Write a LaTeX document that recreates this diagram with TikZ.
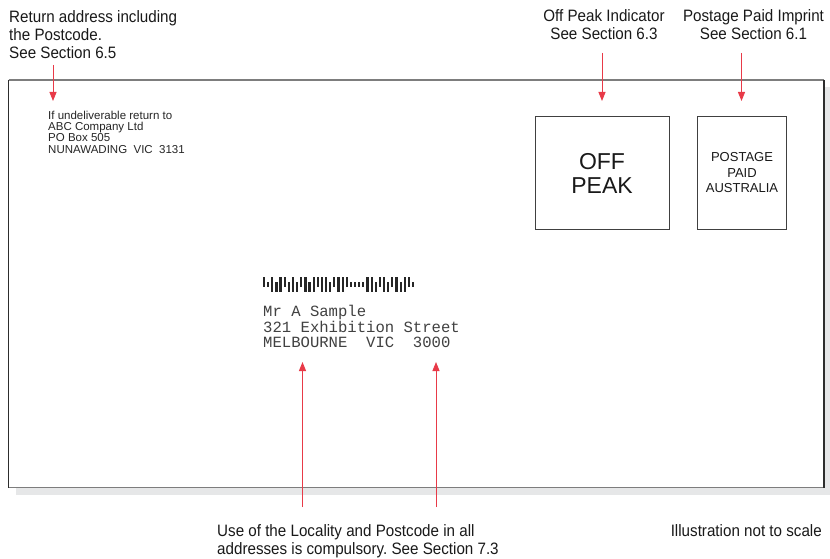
\documentclass[tikz,border=0pt]{standalone}
\usepackage{fontspec}
\setmainfont{Liberation Sans}
\setmonofont{Liberation Mono}
\newfontfamily\condsf[FakeStretch=0.92]{Liberation Sans}
\usetikzlibrary{arrows.meta,calc,positioning}
\definecolor{ptrred}{RGB}{232,58,72}
\definecolor{shadowgray}{RGB}{230,231,232}
\definecolor{edgegray}{RGB}{125,125,125}
\definecolor{edgedark}{RGB}{45,45,45}
\definecolor{inkgray}{RGB}{65,65,65}
\frenchspacing

\tikzset{
  headlabel/.style={inner sep=0pt, align=left, text=black!90,
    font=\condsf\fontsize{16.5}{18}\selectfont},
  retaddr/.style={inner sep=0pt, align=left, text=black!85,
    font=\fontsize{11.5}{11.2}\selectfont},
  addrtext/.style={inner sep=0pt, align=left, text=inkgray,
    font=\ttfamily\fontsize{15.6}{15.5}\selectfont},
  stampbox/.style={draw=black!75, line width=1pt, inner sep=0pt,
    minimum height=112pt, align=center, text=black!90},
  pointer/.style={draw=ptrred, line width=0.9pt,
    -{Triangle[width=7pt,length=9pt]}}
}

\begin{document}
\begin{tikzpicture}[x=1pt,y=-1pt]
  \useasboundingbox (0,0) rectangle (830,559);

  % envelope with its shadow
  \fill[shadowgray] (16,87) rectangle (830,495);
  \fill[white] (8.5,80) rectangle (824,487.5);
  \coordinate (envnw) at (8.5,80);
  \coordinate (envne) at (824,80);
  \coordinate (envsw) at (8.5,487.5);
  \coordinate (envse) at (824,487.5);
  \draw[edgegray, line width=1.8pt] (envnw) -- (envne) (envsw) -- (envse);
  \draw[edgedark, line width=1.5pt] (envnw) -- (envsw) (envne) -- (envse);

  % labels round the envelope
  \node[headlabel, anchor=north west] (retlabel) at (9,10)
    {Return address including\\the Postcode.\\See Section 6.5};
  \node[headlabel, anchor=north, align=center] (offlabel) at (604,9.5)
    {Off Peak Indicator\\See Section 6.3};
  \node[headlabel, anchor=north, align=center] (paidlabel) at (753.5,9.5)
    {Postage Paid Imprint\\See Section 6.1};
  \node[headlabel, anchor=north west] (locallabel) at (217,524)
    {Use of the Locality and Postcode in all\\addresses is compulsory. See Section 7.3};
  \node[headlabel, anchor=north east] (scalelabel) at (822,524)
    {Illustration not to scale};

  % return address
  \node[retaddr, anchor=north west] (retaddr) at (48,111)
    {If undeliverable return to\\ABC Company Ltd\\PO Box 505\\NUNAWADING\ \ VIC\ \ 3131};

  % stamp areas
  \node[stampbox, minimum width=134pt,
    font=\fontsize{23}{24}\selectfont] (offpeak) at (602,173) {OFF\\PEAK};
  \node[stampbox, minimum width=89.5pt,
    font=\fontsize{13}{15.5}\selectfont] (paid) at (742,173) {POSTAGE\\PAID\\AUSTRALIA};

  % barcode: 0 full, 1 ascender, 2 descender, 3 tracker
  \foreach \code [count=\i from 0] in {1,3,0,2,0,1,2,0,2,1,0,2,0,1,0,0,2,1,0,0,
                                      1,3,3,3,3,0,0,2,1,0,2,1,0,2,0,1,3} {
    \pgfmathsetmacro{\bartop}{(\code==0 || \code==1) ? 276.5 : 281.5}
    \pgfmathsetmacro{\barbot}{(\code==0 || \code==2) ? 292 : 287}
    \fill[black!85] ({264+4.14*\i-1.1},\bartop) rectangle ({264+4.14*\i+1.1},\barbot);
  }

  % delivery address
  \node[addrtext, anchor=north west] (addr) at (263,305)
    {Mr A Sample\\321 Exhibition Street\\MELBOURNE\ \ VIC\ \ 3000};

  % pointers
  \coordinate (retfrom) at (53,65);
  \coordinate (retto) at (53,101);
  \coordinate (offfrom) at (602,53);
  \coordinate (offto) at (602,101);
  \coordinate (paidfrom) at (741.5,53);
  \coordinate (paidto) at (741.5,101);
  \coordinate (locfrom) at (302.5,507);
  \coordinate (locto) at (302.5,362);
  \coordinate (pcfrom) at (436,507);
  \coordinate (pcto) at (436,362);
  \draw[pointer] (retfrom) -- (retto);
  \draw[pointer] (offfrom) -- (offto);
  \draw[pointer] (paidfrom) -- (paidto);
  \draw[pointer] (locfrom) -- (locto);
  \draw[pointer] (pcfrom) -- (pcto);
\end{tikzpicture}
\end{document}
